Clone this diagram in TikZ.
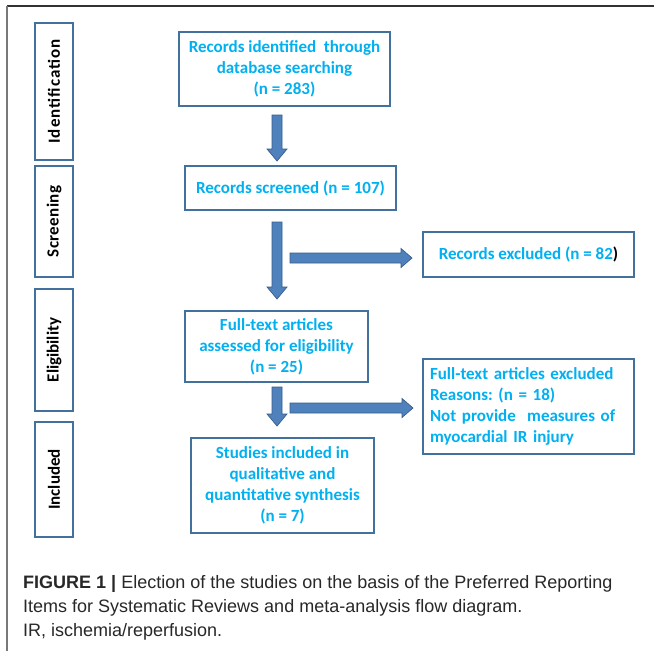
\documentclass[tikz,border=0pt]{standalone}
\usepackage{fontspec}
\setmainfont{Carlito}
\newfontfamily\capfont{Liberation Sans}
\usetikzlibrary{calc}
\frenchspacing
\definecolor{txtblue}{RGB}{0,176,240}
\definecolor{boxedge}{RGB}{65,113,156}
\definecolor{arrfill}{RGB}{79,129,189}
\definecolor{arredge}{RGB}{56,93,138}
\definecolor{framedark}{RGB}{50,50,50}
\definecolor{framelight}{RGB}{120,120,120}
\definecolor{captext}{RGB}{40,40,40}
\newcommand\vblock[2]{%
  \draw[blockarrow] ($(#1)+(-5,0)$) -- ($(#2)+(-5,-12)$) -- ($(#2)+(-10,-12)$) -- (#2)
    -- ($(#2)+(10,-12)$) -- ($(#2)+(5,-12)$) -- ($(#1)+(5,0)$) -- cycle;}
\newcommand\hblock[2]{%
  \draw[blockarrow] ($(#1)+(0,-5)$) -- ($(#2)+(-11,-5)$) -- ($(#2)+(-11,-9.5)$) -- (#2)
    -- ($(#2)+(-11,9.5)$) -- ($(#2)+(-11,5)$) -- ($(#1)+(0,5)$) -- cycle;}
\begin{document}
\begin{tikzpicture}[x=1pt,y=-1pt,
  flowbox/.style={draw=boxedge, line width=1.1pt, rectangle, inner sep=0pt,
    align=center, text=txtblue, font=\bfseries\fontsize{17}{21}\selectfont},
  stagebox/.style={draw=boxedge, line width=1.1pt, rectangle, inner sep=0pt,
    rotate=90, minimum height=38pt, text=black,
    font=\bfseries\fontsize{17}{20}\selectfont},
  blockarrow/.style={fill=arrfill, draw=arredge, line width=0.7pt, line join=miter},
  captionline/.style={anchor=base west, inner sep=0pt, text=captext,
    font=\capfont\fontsize{18}{24}\selectfont}]
\useasboundingbox (0,0) rectangle (654,651);
\fill[white] (0,0) rectangle (654,651);
% frame
\draw[framedark, line width=1.5pt] (654,6) -- (7,6);
\draw[framelight, line width=1.5pt] (7,6) -- (7,651);

% stage boxes
\node[stagebox, minimum width=137pt] (sid) at (54,91.5)
  {\addfontfeature{LetterSpace=6}Identification};
\node[stagebox, minimum width=111pt] (sscr) at (54,221.5)
  {\addfontfeature{LetterSpace=2}Screening};
\node[stagebox, minimum width=122pt] (selig) at (54,350) {Eligibility};
\node[stagebox, minimum width=115pt] (sinc) at (54,479.5) {Included};

% flow boxes
\node[flowbox, minimum width=211pt, minimum height=74pt] (ident) at (284.5,69)
  {Records identified\ \ through\\database searching\\(n = 283)};
\node[flowbox, minimum width=211pt, minimum height=44pt] (screen) at (290.5,188)
  {Records screened (n = 107)};
\node[flowbox, minimum width=211pt, minimum height=45pt] (excl) at (528.5,254.5)
  {Records excluded (n = 82{\color{black})}};
\node[flowbox, minimum width=183pt, minimum height=71pt] (elig) at (276.5,346.5)
  {Full-text articles\\assessed for eligibility\\(n = 25)};
\node[flowbox, minimum width=211pt, minimum height=95pt, text width=197pt,
  align=left] (ftex) at (528.5,406.5)
  {Full-text articles excluded\\Reasons: (n = 18)\\Not provide\ \ measures of\\myocardial IR injury};
\node[flowbox, minimum width=183pt, minimum height=95pt] (incl) at (282.5,485.5)
  {Studies included in\\qualitative and\\quantitative synthesis\\(n = 7)};

% arrow end points
\coordinate (a1s) at (277,115);
\coordinate (a1e) at (277,161);
\coordinate (a2s) at (277,222);
\coordinate (a2e) at (277,299);
\coordinate (a3s) at (277,387);
\coordinate (a3e) at (277,426);
\coordinate (h1s) at (290,258);
\coordinate (h1e) at (412,258);
\coordinate (h2s) at (290,408);
\coordinate (h2e) at (413,408);

\vblock{a1s}{a1e}
\vblock{a2s}{a2e}
\vblock{a3s}{a3e}
\hblock{h1s}{h1e}
\hblock{h2s}{h2e}

% caption
\node[captionline] (cap1) at (23,588)
  {\textbf{FIGURE 1 |} Election of the studies on the basis of the Preferred Reporting};
\node[captionline] (cap2) at (23,612)
  {Items for Systematic Reviews and meta-analysis flow diagram.};
\node[captionline] (cap3) at (23,636)
  {IR, ischemia/reperfusion.};
\end{tikzpicture}
\end{document}
